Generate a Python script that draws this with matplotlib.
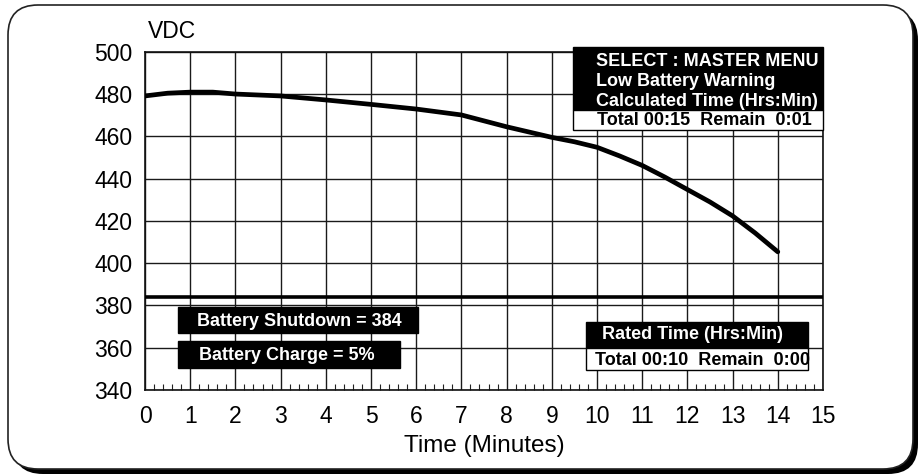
import matplotlib.pyplot as plt
from matplotlib.patches import FancyBboxPatch, Rectangle
from matplotlib.ticker import MultipleLocator
import numpy as np

plt.rcParams['font.family'] = ['Liberation Sans', 'DejaVu Sans']

# battery voltage during discharge
minutes = [0, 0.5, 1, 1.5, 2, 3, 4, 5, 6, 7, 8, 9, 9.5, 10, 10.5, 11, 11.5, 12, 12.5, 13, 13.5, 14]
vdc = [479.2, 480.5, 481.0, 481.0, 480.1, 479.2, 477.3, 475.2, 473.0, 470.2, 464.6, 459.6,
       457.5, 454.9, 450.8, 446.3, 440.8, 434.9, 429.0, 422.4, 414.3, 405.4]
shutdown_vdc = 384
x_ticks = list(range(0, 16))
y_ticks = list(range(340, 501, 20))

fig = plt.figure(figsize=(9.19, 4.75), dpi=100)

# rounded frame with drop shadow, drawn in pixel units
bg = fig.add_axes([0, 0, 1, 1], zorder=0)
bg.set_xlim(0, 919)
bg.set_ylim(475, 0)
bg.axis('off')
bg.add_patch(FancyBboxPatch((13, 10), 905, 464, boxstyle="round,pad=0,rounding_size=30",
                            fc='black', ec='black', lw=0))
bg.add_patch(FancyBboxPatch((8, 5), 905, 464, boxstyle="round,pad=0,rounding_size=30",
                            fc='white', ec='#222222', lw=1.2))

ax = fig.add_axes([145 / 919, 85 / 475, 678 / 919, 338 / 475], zorder=1)
ax.set_facecolor('none')
ax.set_xlim(0, 15)
ax.set_ylim(340, 500)
ax.set_xticks(x_ticks)
ax.set_yticks(y_ticks)
ax.xaxis.set_minor_locator(MultipleLocator(0.2))
ax.grid(True, which='major', color='#1a1a1a', lw=1.0)
ax.tick_params(which='major', length=0, labelsize=16.5)
ax.tick_params(axis='x', which='major', pad=11)
ax.tick_params(axis='y', which='major', pad=9)
ax.tick_params(axis='x', which='minor', direction='in', length=4, width=0.8, color='#222222')
ax.tick_params(axis='y', which='minor', length=0)
for s in ax.spines.values():
    s.set_color('#111111')
    s.set_linewidth(1.2)

ax.plot(minutes, vdc, color='black', lw=3.4, solid_capstyle='round', zorder=3)
ax.axhline(shutdown_vdc, color='black', lw=2.6, zorder=3)

ax.set_xlabel('Time (Minutes)', fontsize=17.5, labelpad=5)
ax.text(0.06, 509.5, 'VDC', fontsize=16.5, ha='left', va='center', clip_on=False)

bold = dict(fontsize=13, fontweight='bold', va='center', ha='left', zorder=6, clip_on=False)

# top right message box
ax.add_patch(Rectangle((9.47, 472.5), 5.53, 29.9, fc='black', ec='black', lw=1, zorder=5, clip_on=False))
ax.add_patch(Rectangle((9.47, 463.1), 5.53, 9.4, fc='white', ec='black', lw=1, zorder=5, clip_on=False))
ax.text(9.98, 495.4, 'SELECT : MASTER MENU', color='white', **bold)
ax.text(9.98, 485.9, 'Low Battery Warning', color='white', **bold)
ax.text(9.98, 476.5, 'Calculated Time (Hrs:Min)', color='white', **bold)
ax.text(10.0, 467.6, 'Total 00:15  Remain  0:01', color='black', **bold)

# bottom left boxes
ax.add_patch(Rectangle((0.73, 367.0), 5.31, 12.4, fc='black', ec='black', lw=1, zorder=5))
ax.add_patch(Rectangle((0.73, 350.6), 4.91, 12.6, fc='black', ec='black', lw=1, zorder=5))
ax.text(1.14, 372.6, 'Battery Shutdown = 384', color='white', **bold)
ax.text(1.19, 356.4, 'Battery Charge = 5%', color='white', **bold)

# rated time box
ax.add_patch(Rectangle((9.76, 359.7), 4.91, 12.6, fc='black', ec='black', lw=1, zorder=5))
ax.add_patch(Rectangle((9.76, 349.5), 4.91, 10.2, fc='white', ec='black', lw=1, zorder=5))
ax.text(10.12, 366.2, 'Rated Time (Hrs:Min)', color='white', **bold)
ax.text(9.96, 354.2, 'Total 00:10  Remain  0:00', color='black', **bold)

fig.savefig('out.png', dpi=100)
